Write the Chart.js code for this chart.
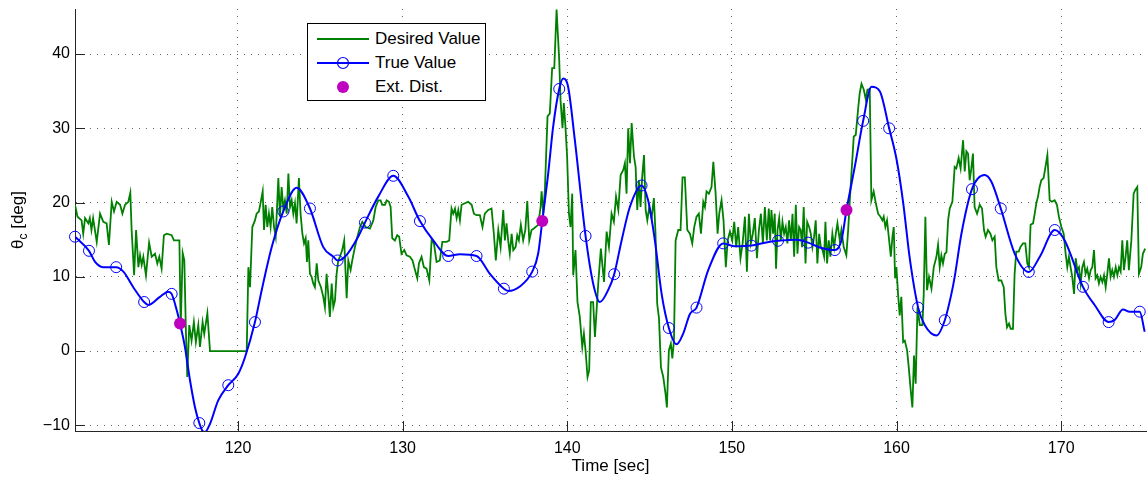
<!DOCTYPE html>
<html>
<head>
<meta charset="utf-8">
<script src="https://cdn.jsdelivr.net/npm/chart.js@4.4.1/dist/chart.umd.min.js"></script>
<style>
  body { margin: 0; background: #fff; }
  #quadro { position: relative; width: 1148px; height: 477px; }
  #legenda {
    position: absolute; left: 307px; top: 23px; width: 177px; height: 76px;
    border: 1px solid #000; background: #fff;
    font-family: "Liberation Sans", Arial, sans-serif; font-size: 17px; color: #000;
  }
  .linha { position: absolute; left: 0; height: 24px; line-height: 24px; display: flex; align-items: center; }
  .linha svg { margin-left: 9px; }
  .linha span { margin-left: 6px; }
</style>
</head>
<body>
<div id="quadro">
  <canvas id="grafico" width="1148" height="477"></canvas>
  <div id="legenda">
    <div class="linha" style="top:3px">
      <svg width="52" height="24"><line x1="0" y1="12" x2="52" y2="12" stroke="#008000" stroke-width="2"/></svg>
      <span>Desired Value</span>
    </div>
    <div class="linha" style="top:27px">
      <svg width="52" height="24"><line x1="0" y1="12" x2="52" y2="12" stroke="#0000ff" stroke-width="2"/><circle cx="26" cy="12" r="5.5" fill="none" stroke="#0000ff" stroke-width="1.2"/></svg>
      <span>True Value</span>
    </div>
    <div class="linha" style="top:51px">
      <svg width="52" height="24"><circle cx="26" cy="12" r="6" fill="#bf00bf"/></svg>
      <span>Ext. Dist.</span>
    </div>
  </div>
</div>
<script>
// eixos
const xTicks = [120, 130, 140, 150, 160, 170];
const yTicks = [-10, 0, 10, 20, 30, 40];

// Desired Value (verde)
const desiredTime = [
  110.1, 110.25, 110.5, 110.6, 110.71, 110.91, 111.0, 111.1, 111.2, 111.42,
  111.62, 111.82, 112.02, 112.16, 112.33, 112.47, 112.63, 112.84, 112.98, 113.14,
  113.34, 113.46, 113.54, 113.69, 113.81, 113.95, 114.05, 114.15, 114.25, 114.41,
  114.6, 114.76, 114.96, 115.1, 115.22, 115.36, 115.5, 115.67, 115.97, 116.11,
  116.44, 116.52, 116.64, 116.74, 116.84, 116.92, 117.04, 117.18, 117.32, 117.44,
  117.59, 117.69, 117.85, 117.95, 118.14, 118.3, 120.53,
  120.63, 120.73, 120.87, 121.03, 121.13, 121.27, 121.4, 121.5, 121.58, 121.68,
  121.78, 121.88, 121.98, 122.08, 122.19, 122.29, 122.45, 122.55, 122.65, 122.75,
  122.85, 122.96, 123.06, 123.16, 123.26, 123.36, 123.46, 123.56, 123.7, 123.8,
  123.91, 124.01, 124.11, 124.19, 124.27, 124.37, 124.47, 124.57, 124.67, 124.78,
  124.88, 125.04, 125.18, 125.28, 125.38, 125.48, 125.58, 125.69, 125.79, 125.89,
  125.99, 126.09, 126.19, 126.33, 126.45, 126.6, 126.7, 126.84, 126.94, 127.1,
  127.25, 127.41, 127.55, 127.75, 128.01, 128.22, 128.36, 128.52, 128.66, 128.76,
  128.93, 129.03, 129.17, 129.27, 129.37, 129.53, 129.67, 129.79, 129.93, 130.1,
  130.24, 130.44, 130.6, 130.75, 130.89, 130.99, 131.15,
  131.29, 131.45, 131.62, 131.76, 131.9, 132.06, 132.26, 132.41, 132.67, 132.83,
  132.97, 133.07, 133.18, 133.28, 133.38, 133.48, 133.58, 133.78, 133.98, 134.19,
  134.33, 134.49, 134.69, 134.85, 134.99, 135.2, 135.4, 135.54, 135.66, 135.81,
  135.95, 136.11, 136.21, 136.31, 136.41, 136.51, 136.62, 136.72, 136.86, 136.96,
  137.06, 137.18, 137.32, 137.45, 137.57, 137.69, 137.83, 137.97, 138.23, 138.38,
  138.44, 138.54, 138.64, 138.8, 138.94, 139.08, 139.21, 139.35, 139.51, 139.59,
  139.71, 139.79, 139.89, 139.99, 140.1, 140.2, 140.3, 140.36, 140.5, 140.62,
  140.76, 140.91, 141.01, 141.11, 141.23, 141.33, 141.43, 141.57,
  141.68, 141.88, 142.04, 142.23, 142.39, 142.53, 142.69, 142.83, 142.96, 143.1,
  143.24, 143.4, 143.5, 143.6, 143.7, 143.81, 143.91, 144.05, 144.15, 144.25,
  144.35, 144.45, 144.55, 144.66, 144.76, 144.86, 144.98, 145.12, 145.26, 145.36,
  145.46, 145.57, 145.69, 145.83, 145.97, 146.05, 146.17, 146.29, 146.38, 146.48,
  146.58, 146.74, 146.88, 147.0, 147.14, 147.29, 147.45, 147.59, 147.71, 147.85,
  147.99, 148.12, 148.26, 148.36, 148.46, 148.6, 148.76, 148.87, 149.01, 149.13,
  149.23, 149.37, 149.49, 149.63, 149.74, 149.88, 150.02, 150.14, 150.26, 150.38,
  150.52, 150.65, 150.79, 150.91, 151.03, 151.15, 151.27, 151.39, 151.52, 151.64,
  151.76, 151.88, 152.0, 152.12, 152.24,
  152.32, 152.4, 152.5, 152.6, 152.68, 152.77, 152.87, 152.97, 153.07, 153.17,
  153.27, 153.37, 153.47, 153.58, 153.68, 153.78, 153.88, 153.98, 154.08, 154.18,
  154.26, 154.36, 154.47, 154.57, 154.69, 154.79, 154.89, 154.99, 155.09, 155.19,
  155.3, 155.4, 155.5, 155.6, 155.68, 155.78, 155.88, 155.98, 156.1, 156.21,
  156.31, 156.41, 156.55, 156.65, 156.79, 156.95, 157.06, 157.16, 157.26, 157.4,
  157.52, 157.66, 157.76, 157.87, 158.01, 158.13, 158.23, 158.37, 158.47, 158.61,
  158.74, 158.88, 159.02, 159.14, 159.22, 159.32, 159.42, 159.55, 159.65, 159.75,
  159.83, 159.91, 159.99, 160.09, 160.19, 160.29, 160.4, 160.5, 160.64, 160.74,
  160.84, 160.96, 161.06, 161.16, 161.27, 161.41, 161.57, 161.65, 161.75, 161.85,
  161.97, 162.12, 162.26, 162.42, 162.52, 162.62, 162.72, 162.82, 162.93, 163.03,
  163.13, 163.23, 163.39,
  163.53, 163.63, 163.77, 163.89, 164.04, 164.14, 164.24, 164.34, 164.44, 164.54,
  164.64, 164.74, 164.89, 165.05, 165.19, 165.31, 165.41, 165.55, 165.7, 165.82,
  165.96, 166.06, 166.2, 166.36, 166.51, 166.61, 166.71, 166.83, 166.93, 167.07,
  167.17, 167.27, 167.42, 167.52, 167.68, 167.82, 167.94, 168.04, 168.14, 168.29,
  168.39, 168.49, 168.59, 168.69, 168.79, 168.93, 169.03, 169.16, 169.3, 169.44,
  169.6, 169.74, 169.86, 170.01, 170.15, 170.27, 170.37, 170.47, 170.57, 170.67,
  170.78, 170.88, 170.98, 171.08, 171.18, 171.28, 171.38, 171.48, 171.58, 171.69,
  171.79, 171.89, 171.99, 172.09, 172.19, 172.29, 172.39, 172.5, 172.6, 172.7,
  172.8, 172.9, 173.0, 173.1, 173.2, 173.31, 173.41, 173.51, 173.61, 173.71,
  173.81, 173.91, 174.01, 174.11, 174.26, 174.4, 174.5, 174.62, 174.72, 174.86,
  174.96, 175.1
];
const desiredValue = [
  19.7, 18.1, 17.6, 15.8, 17.9, 17.2, 17.9, 16.3, 17.9, 14.7,
  18.5, 17.4, 17.2, 14.3, 20.1, 18.8, 20.1, 19.7, 18.5, 19.7,
  20.1, 21.3, 16.3, 10.2, 16.3, 11.3, 12.9, 11.6, 12.7, 10.2,
  14.6, 12.7, 13.1, 11.8, 12.7, 11.1, 15.6, 15.8, 15.6, 14.9,
  14.9, 3.2, 13.2, 12.2, 2.3, -3.5, 3.5, 1.4, 3.9, 1.2,
  3.5, 0.55, 3.9, 2.3, 5.1, 0, 0,
  11.3, 8.6, 16.7, 17.6, 18.5, 18.8, 20.3, 21.5, 16.3, 19.7,
  16.7, 18.5, 16.7, 19.4, 16.7, 15.4, 23.3, 18.1, 22.1, 19.2,
  20.3, 18.5, 23.9, 19.4, 20.3, 18.5, 19.9, 17.2, 23.3, 18.5,
  15.8, 14.5, 15.2, 12.0, 14.9, 10.4, 10.0, 9.1, 8.6, 11.8,
  9.5, 8.6, 7.3, 5.9, 10.4, 7.7, 4.6, 9.1, 5.9, 6.8,
  10.4, 12.2, 12.7, 13.6, 14.9, 7.1, 12.2, 10.9, 12.2, 14.0,
  15.4, 16.7, 17.4, 16.7, 16.5, 17.6, 19.4, 20.3, 20.3, 19.7,
  19.7, 20.3, 20.1, 19.4, 15.2, 14.9, 15.6, 15.4, 13.1, 13.6,
  12.9, 12.7, 12.2, 10.9, 9.8, 11.8, 12.7,
  11.3, 11.1, 9.5, 14.9, 14.5, 12.0, 12.2, 14.7, 14.7, 14.9,
  19.2, 18.5, 19.2, 17.9, 19.0, 17.6, 19.7, 19.9, 20.1, 19.7,
  18.5, 18.3, 18.3, 16.7, 18.5, 19.0, 19.2, 15.8, 12.2, 16.3,
  14.0, 19.0, 14.9, 17.2, 14.9, 13.1, 15.8, 13.6, 14.0, 15.6,
  14.9, 17.0, 14.9, 16.3, 20.2, 14.9, 16.3, 16.5, 17.0, 19.4,
  21.5, 18.5, 21.7, 31.6, 32.0, 38.1, 38.1, 46.0, 39.2, 33.8,
  30.0, 33.4, 30.2, 26.2, 18.5, 16.7, 21.2, 10.2, 13.6, 6.6,
  4.6, 0.55, 2.35, 0.1, -3.5, -2.6, 6.6, 6.6,
  1.9, 9.1, 13.8, 9.3, 16.1, 14.0, 18.5, 17.4, 20.8, 19.0,
  23.7, 24.4, 25.3, 21.2, 30.0, 25.3, 30.7, 26.2, 24.8, 19.0,
  23.0, 19.4, 23.5, 26.4, 19.0, 17.6, 19.4, 17.9, 20.6, 15.8,
  6.4, 4.4, -2.2, -3.5, -5.8, -7.6, 0.1, 1.0, -1.0, 1.4,
  14.9, 16.3, 16.3, 23.4, 23.4, 16.3, 15.8, 14.5, 16.7, 18.1,
  18.5, 15.8, 20.1, 19.4, 21.5, 21.2, 22.1, 25.5, 21.2, 15.8,
  18.5, 20.3, 17.6, 11.3, 14.9, 16.1, 14.9, 17.4, 14.0, 16.7,
  12.5, 14.5, 18.1, 10.7, 18.5, 14.5, 15.8, 17.9, 12.5, 16.3,
  18.5, 14.5, 19.4, 14.9, 19.2,
  14.9, 19.0, 15.8, 18.5, 11.1, 16.3, 17.9, 14.9, 17.4, 15.8,
  16.7, 14.5, 17.6, 14.9, 18.5, 12.7, 19.7, 13.1, 16.7, 16.3,
  14.0, 19.4, 11.8, 17.4, 16.7, 15.8, 14.0, 15.4, 17.6, 11.8,
  15.8, 14.0, 13.6, 12.7, 17.4, 11.8, 14.9, 12.7, 15.8, 14.0,
  15.8, 17.2, 14.9, 16.3, 14.0, 12.9, 16.3, 20.3, 23.9, 28.9,
  29.1, 32.5, 34.7, 36.0, 35.2, 33.9, 35.2, 35.3, 20.3, 21.5,
  19.9, 18.5, 18.1, 17.6, 18.1, 16.7, 17.6, 14.9, 12.7, 15.4,
  16.7, 9.8, 11.3, 7.7, 4.8, 7.3, 1.2, 1.4, 0.1, -2.2,
  -4.8, -7.6, -0.6, -4.4, 5.9, 3.5, 3.5, 7.7, 18.1, 8.2,
  10.0, 8.4, 11.3, 12.7, 14.3, 11.3, 12.9, 11.8, 13.1, 13.3,
  17.6, 19.2, 20.1,
  24.8, 24.6, 26.0, 24.6, 28.4, 24.2, 26.9, 26.6, 23.0, 24.6,
  26.6, 19.4, 18.5, 19.7, 19.2, 16.3, 15.4, 16.3, 15.8, 14.9,
  15.4, 11.3, 9.5, 9.5, 8.6, 5.0, 3.2, 3.7, 3.0, 3.0,
  10.4, 13.4, 13.4, 14.0, 14.5, 14.5, 11.8, 11.3, 17.0, 17.2,
  18.5, 19.9, 20.8, 22.1, 23.0, 23.3, 24.6, 26.4, 20.3, 20.1,
  20.3, 19.7, 18.1, 16.7, 15.8, 13.1, 11.3, 12.7, 11.3, 10.0,
  7.7, 12.5, 10.9, 11.3, 9.1, 11.3, 12.0, 10.4, 11.1, 9.8,
  10.9, 11.3, 13.6, 9.8, 10.2, 9.1, 10.0, 9.3, 10.2, 8.6,
  10.4, 12.5, 10.0, 10.9, 10.0, 11.3, 10.2, 11.3, 10.7, 14.9,
  10.9, 12.7, 14.9, 10.9, 14.9, 21.2, 21.7, 22.1, 10.4, 11.3,
  13.1, 13.8
];

// True Value (azul, curva suave)
const trueTime = [
  110.1, 110.95, 111.32, 111.8, 112.6, 113.04, 113.64, 114.3, 114.55, 115.26,
  115.77, 115.97, 116.28, 116.48, 116.78, 117.09, 117.39, 117.65, 117.86, 118.0,
  118.3, 118.8, 119.41, 120.02, 120.43, 121.03, 121.44, 122.05, 122.75, 123.56,
  124.37, 125.18, 125.79, 126.05, 126.5, 127.3, 127.71, 128.52, 129.43, 130.34,
  131.05, 131.86, 132.77, 133.48, 134.49, 135.3, 136.15, 136.41, 137.12, 137.87,
  138.23, 138.48, 138.84, 139.14, 139.51, 139.75, 140.05, 140.46, 141.11, 141.57,
  141.98, 142.48, 142.85, 143.3, 143.8, 144.51, 144.91, 145.32, 145.73, 146.17,
  146.64, 147.04, 147.45, 147.85, 148.56, 149.47, 150.18, 151.19, 152.0, 152.8,
  153.92, 154.63, 155.34, 156.25, 156.65, 156.96, 157.46, 157.97, 158.48, 158.98,
  159.55, 160.0, 160.4, 160.8, 161.31, 161.71, 162.42, 162.93, 163.33, 163.53,
  163.94, 164.58, 165.35, 165.76, 166.33, 167.18, 168.03, 168.7, 169.61, 170.21,
  171.32, 172.03, 172.88, 173.25, 173.75, 174.16, 174.77, 175.07
];
const trueValue = [
  15.4, 13.5, 12.0, 11.3, 11.3, 10.7, 8.6, 6.6, 6.2, 7.3,
  8.0, 7.7, 5.5, 3.7, 0.5, -4.0, -7.6, -9.7, -10.8, -10.9,
  -9.8, -6.65, -4.6, -3.05, -0.8, 3.9, 8.2, 14.0, 18.8, 22.0,
  19.2, 14.0, 12.7, 12.2, 12.7, 15.4, 17.3, 20.8, 23.6, 20.8,
  17.5, 14.9, 12.8, 13.05, 12.8, 10.4, 8.4, 8.1, 8.7, 10.7,
  13.1, 17.5, 23.9, 30.2, 35.3, 36.7, 35.6, 28.4, 15.5, 9.1,
  6.6, 8.2, 10.35, 14.9, 19.4, 22.3, 20.3, 14.9, 7.7, 3.1,
  0.9, 2.35, 5.0, 5.85, 10.9, 14.5, 14.1, 14.2, 14.6, 14.85,
  15.0, 14.6, 13.95, 13.6, 14.9, 19.0, 24.8, 31.0, 35.6, 35.0,
  30.0, 25.8, 20.0, 12.5, 5.85, 3.5, 2.1, 4.15, 7.7, 10.0,
  15.8, 21.8, 23.7, 22.8, 19.2, 13.1, 10.65, 12.7, 16.3, 14.9,
  8.65, 6.2, 3.9, 4.2, 5.6, 5.3, 5.3, 2.6
];

// marcadores (circulos) da True Value
const markTime = [
  110.1, 110.95, 112.6, 114.3, 115.97, 117.65, 119.41, 121.03, 122.75, 124.37,
  126.05, 127.71, 129.43, 131.05, 132.77, 134.49, 136.15, 137.87, 139.51, 141.11,
  142.85, 144.51, 146.17, 147.85, 149.47, 151.19, 152.8, 154.63, 156.25, 157.97,
  159.55, 161.31, 162.93, 164.58, 166.33, 168.03, 169.61, 171.32, 172.88, 174.77
];
const markValue = [
  15.4, 13.5, 11.3, 6.6, 7.7, -9.7, -4.6, 3.9, 18.8, 19.2,
  12.2, 17.3, 23.6, 17.5, 12.8, 12.8, 8.4, 10.7, 35.3, 15.5,
  10.35, 22.3, 3.1, 5.85, 14.5, 14.2, 14.85, 14.6, 13.6, 31.0,
  30.0, 5.85, 4.15, 21.8, 19.2, 10.65, 16.3, 8.65, 3.9, 5.3
];

// Ext. Dist.
const extTime = [116.48, 138.48, 156.96];
const extValue = [3.7, 17.5, 19.0];

const FONTE = '"Liberation Sans", Arial, sans-serif';
const COR_EIXO = '#262626';

function pares(xs, ys) {
  return xs.map((x, i) => ({ x: x, y: ys[i] }));
}

function menos(v) {
  return String(v).replace('-', '\u2212');
}

// ticks para dentro + titulo do eixo y (theta com subscrito)
const extras = {
  id: 'extras',
  afterDraw(chart) {
    const ctx = chart.ctx;
    const area = chart.chartArea;
    const sx = chart.scales.x;
    const sy = chart.scales.y;

    ctx.save();
    ctx.strokeStyle = COR_EIXO;
    ctx.lineWidth = 1;
    ctx.beginPath();
    xTicks.forEach(v => {
      const x = Math.round(sx.getPixelForValue(v)) + 0.5;
      ctx.moveTo(x, area.bottom);
      ctx.lineTo(x, area.bottom - 10);
    });
    yTicks.forEach(v => {
      const y = Math.round(sy.getPixelForValue(v)) + 0.5;
      ctx.moveTo(area.left, y);
      ctx.lineTo(area.left + 10, y);
    });
    ctx.stroke();

    ctx.translate(18, (area.top + area.bottom) / 2);
    ctx.rotate(-Math.PI / 2);
    ctx.fillStyle = '#000';
    ctx.textBaseline = 'alphabetic';
    const grande = '17px ' + FONTE;
    const pequeno = '12px ' + FONTE;
    ctx.font = grande;
    const w1 = ctx.measureText('\u03b8').width;
    const w3 = ctx.measureText(' [deg]').width;
    ctx.font = pequeno;
    const w2 = ctx.measureText('c').width;
    let x = -(w1 + w2 + w3) / 2;
    ctx.font = grande;
    ctx.fillText('\u03b8', x, 4.5);
    x += w1;
    ctx.font = pequeno;
    ctx.fillText('c', x, 8.5);
    x += w2;
    ctx.font = grande;
    ctx.fillText(' [deg]', x, 4.5);
    ctx.restore();
  }
};

const gradeCor = 'rgba(0,0,0,0.6)';

new Chart(document.getElementById('grafico'), {
  type: 'line',
  data: {
    datasets: [
      {
        label: 'Ext. Dist.',
        data: pares(extTime, extValue),
        showLine: false,
        pointRadius: 6,
        pointHoverRadius: 6,
        pointBackgroundColor: '#bf00bf',
        pointBorderColor: '#bf00bf',
        pointBorderWidth: 0,
        clip: false,
        order: 0
      },
      {
        label: 'True Value markers',
        data: pares(markTime, markValue),
        showLine: false,
        pointRadius: 5.5,
        pointHoverRadius: 5.5,
        pointBackgroundColor: 'rgba(0,0,0,0)',
        pointBorderColor: '#0000ff',
        pointBorderWidth: 1,
        clip: false,
        order: 1
      },
      {
        label: 'True Value',
        data: pares(trueTime, trueValue),
        borderColor: '#0000ff',
        borderWidth: 2,
        pointRadius: 0,
        cubicInterpolationMode: 'monotone',
        order: 2
      },
      {
        label: 'Desired Value',
        data: pares(desiredTime, desiredValue),
        borderColor: '#008000',
        borderWidth: 1.8,
        pointRadius: 0,
        tension: 0,
        order: 3
      }
    ]
  },
  options: {
    responsive: false,
    animation: false,
    events: [],
    layout: { autoPadding: false, padding: { top: 9, right: 2, left: 0, bottom: 0 } },
    plugins: {
      legend: { display: false },
      tooltip: { enabled: false }
    },
    scales: {
      x: {
        type: 'linear',
        min: 110.1,
        max: 175.15,
        afterBuildTicks: s => { s.ticks = xTicks.map(v => ({ value: v })); },
        afterFit: s => { s.height = 46; s.paddingLeft = 0; s.paddingRight = 0; },
        ticks: {
          font: { family: FONTE, size: 16 },
          color: '#000',
          padding: 8,
          maxRotation: 0,
          autoSkip: false
        },
        grid: { color: gradeCor, lineWidth: 1, drawTicks: false },
        border: { display: true, color: COR_EIXO, width: 1, dash: [1, 6] },
        title: {
          display: true,
          text: 'Time [sec]',
          font: { family: FONTE, size: 17 },
          color: '#000',
          padding: { top: 0, bottom: 0 }
        }
      },
      y: {
        type: 'linear',
        min: -10.77,
        max: 46.07,
        afterBuildTicks: s => { s.ticks = yTicks.map(v => ({ value: v })); },
        afterFit: s => { s.width = 75; s.paddingTop = 0; s.paddingBottom = 0; },
        ticks: {
          font: { family: FONTE, size: 16 },
          color: '#000',
          padding: 5,
          callback: v => menos(v)
        },
        grid: { color: gradeCor, lineWidth: 1, drawTicks: false },
        border: { display: true, color: COR_EIXO, width: 1, dash: [1, 6] }
      }
    }
  },
  plugins: [extras]
});
</script>
</body>
</html>
